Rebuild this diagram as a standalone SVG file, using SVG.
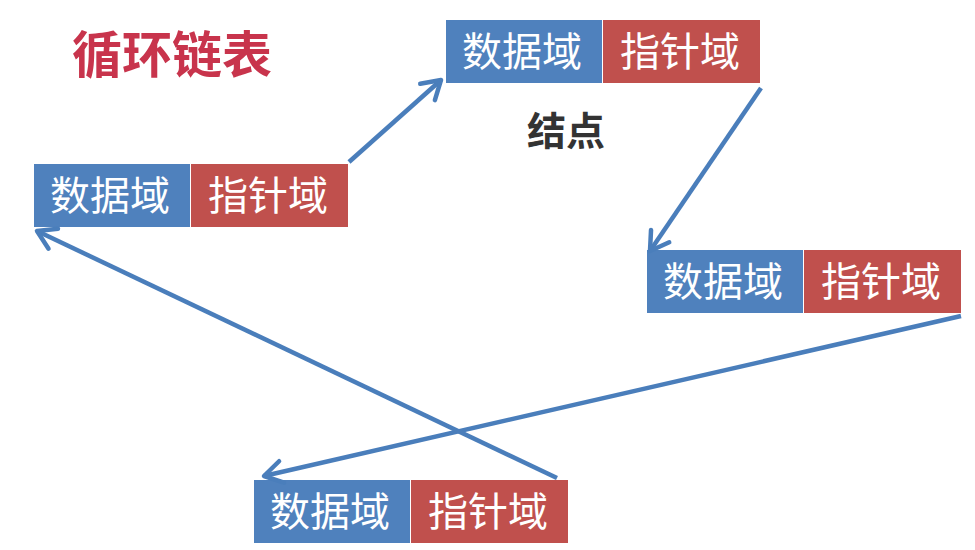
<svg xmlns="http://www.w3.org/2000/svg" width="975" height="550" viewBox="0 0 975 550">
  <style>
    .data { fill: #4F81BD; }
    .ptr { fill: #C0504D; }
    .lbl { font-family: "Noto Sans CJK SC", "Noto Sans", sans-serif; font-size: 40px; fill: #ffffff; text-anchor: middle; }
    .conn { stroke: #4A7EBB; stroke-width: 4.5; fill: none; marker-end: url(#arrow); }
    .title { font-family: "Noto Sans CJK SC", sans-serif; font-weight: bold; font-size: 50px; fill: #C8344C; }
    .cap { font-family: "Noto Sans CJK SC", sans-serif; font-weight: bold; font-size: 39px; fill: #333333; }
  </style>
  <defs>
    <marker id="arrow" markerUnits="userSpaceOnUse" markerWidth="40" markerHeight="40" viewBox="-30 -20 40 40" refX="0" refY="0" orient="auto">
      <path d="M-18,-11 L0,0 L-18,11" fill="none" stroke="#4A7EBB" stroke-width="4.5" stroke-linecap="round" stroke-linejoin="round"/>
    </marker>
  </defs>
  <rect width="975" height="550" fill="#ffffff"/>
  <text class="title" x="72" y="73">循环链表</text>
  <text class="cap" x="527" y="145">结点</text>

  <g id="node1">
    <rect class="data" x="34" y="164" width="156" height="63"/>
    <rect class="ptr" x="191" y="164" width="157" height="63"/>
    <text class="lbl" x="110" y="210">数据域</text>
    <text class="lbl" x="268" y="210">指针域</text>
  </g>
  <g id="node2">
    <rect class="data" x="446" y="20" width="156" height="63"/>
    <rect class="ptr" x="603" y="20" width="157" height="63"/>
    <text class="lbl" x="522" y="66">数据域</text>
    <text class="lbl" x="680" y="66">指针域</text>
  </g>
  <g id="node3">
    <rect class="data" x="647" y="250" width="156" height="63"/>
    <rect class="ptr" x="804" y="250" width="157" height="63"/>
    <text class="lbl" x="723" y="296">数据域</text>
    <text class="lbl" x="881" y="296">指针域</text>
  </g>
  <g id="node4">
    <rect class="data" x="254" y="480" width="156" height="63"/>
    <rect class="ptr" x="411" y="480" width="157" height="63"/>
    <text class="lbl" x="330" y="526">数据域</text>
    <text class="lbl" x="488" y="526">指针域</text>
  </g>

  <g id="connectors">
    <line class="conn" x1="349" y1="162" x2="441" y2="80"/>
    <line class="conn" x1="761" y1="88" x2="650" y2="251"/>
    <line class="conn" x1="961" y1="316" x2="264" y2="476"/>
    <line class="conn" x1="557" y1="478" x2="37" y2="231"/>
  </g>
</svg>
